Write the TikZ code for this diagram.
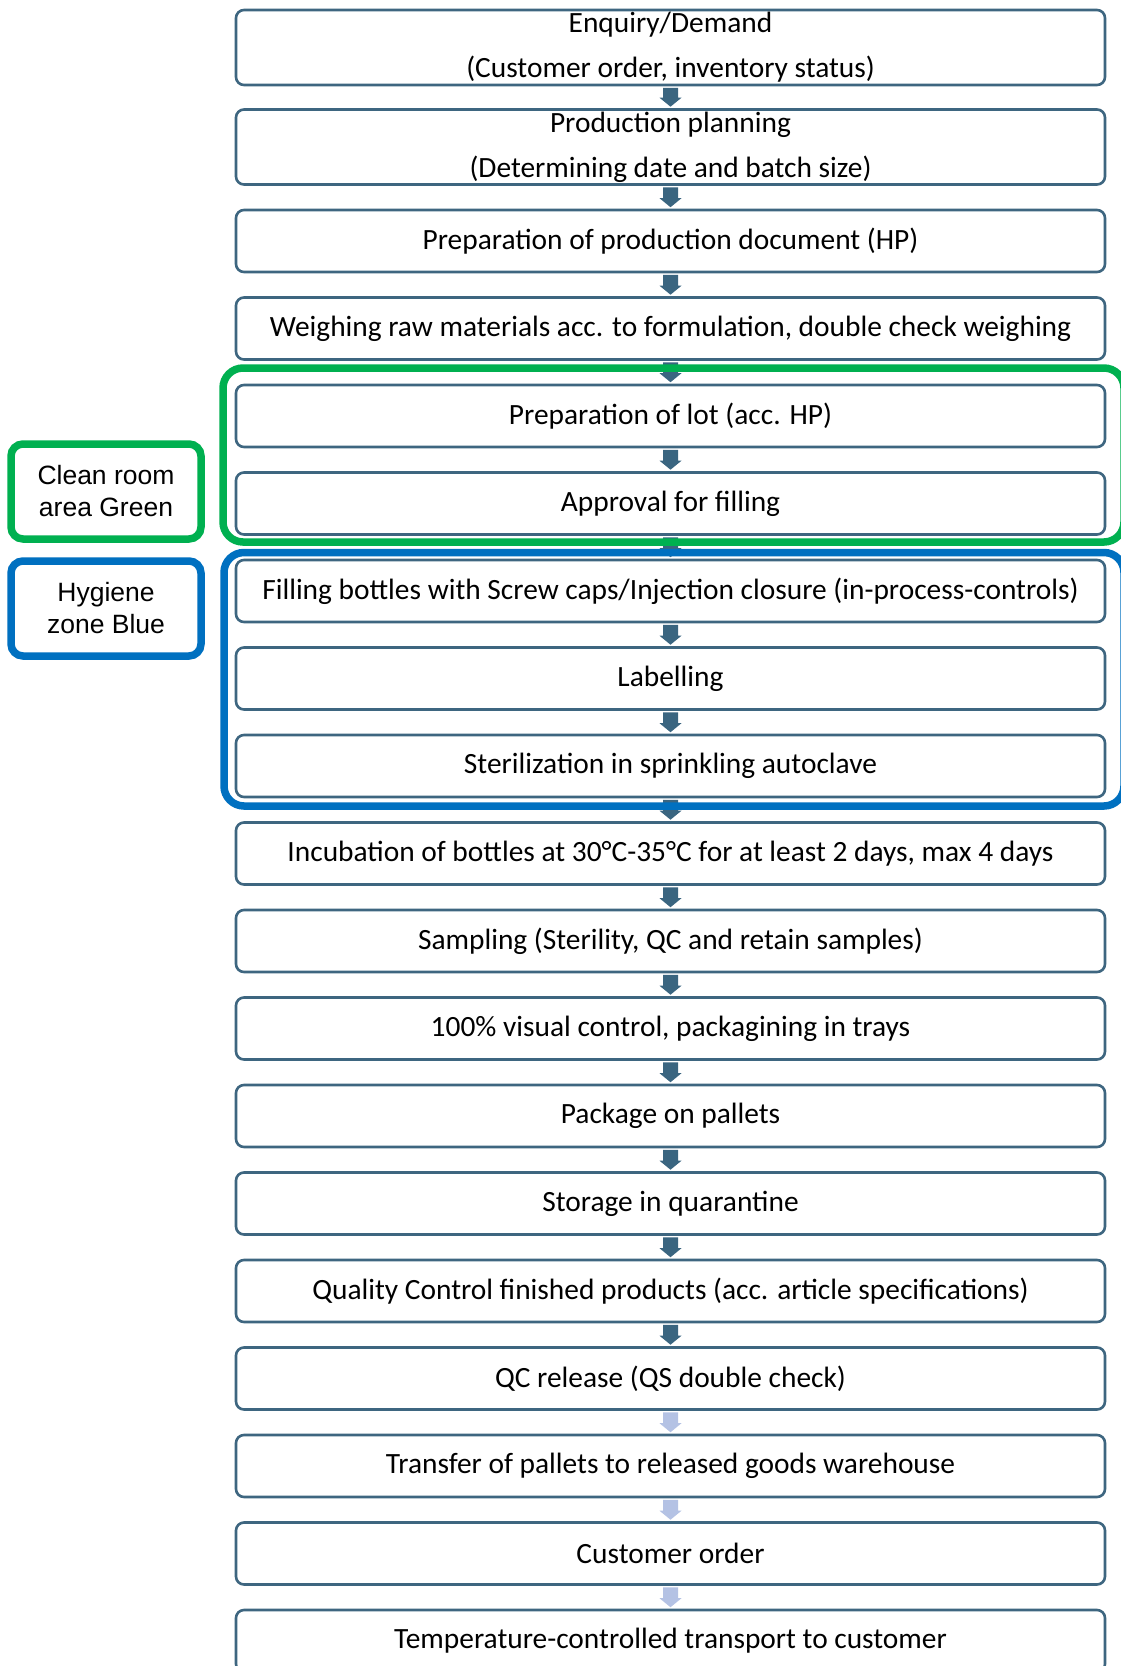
\documentclass[tikz,border=0pt]{standalone}
\usepackage{fontspec}
\setmainfont{Carlito}
\newfontfamily\arialf{Liberation Sans}
\usetikzlibrary{calc}
\definecolor{boxc}{HTML}{3E6680}
\definecolor{arrc}{HTML}{3A6580}
\definecolor{lightarr}{HTML}{B4C2E4}
\definecolor{greenc}{HTML}{00B050}
\definecolor{bluec}{HTML}{0070C0}
\tikzset{
  stepbox/.style={draw=boxc, line width=2.6pt, rounded corners=8pt, minimum width=869pt,
    minimum height=62pt, inner sep=0pt, align=center, font=\fontsize{29.4pt}{35pt}\selectfont},
  tallbox/.style={stepbox, minimum height=75pt, font=\fontsize{29.4pt}{45pt}\selectfont},
  zonelabel/.style={line width=7.5pt, rounded corners=12pt, minimum width=190pt,
    minimum height=95pt, inner sep=0pt, align=center, font=\arialf\fontsize{26.5pt}{32pt}\selectfont},
  zoneframe/.style={line width=7.5pt, rounded corners=20pt}
}
\newcommand\flowarrow[3]{\fill[#3] let \p1=(#1.south), \p2=(#2.north) in
  (\x1-7.5pt,\y1-1.5pt) -- (\x1+7.5pt,\y1-1.5pt) -- (\x1+7.5pt,\y2+10.5pt) --
  (\x1+11pt,\y2+10.5pt) -- (\x1,\y2+1.5pt) -- (\x1-11pt,\y2+10.5pt) --
  (\x1-7.5pt,\y2+10.5pt) -- cycle;}
\begin{document}
\begin{tikzpicture}[x=1pt,y=-1pt]
\useasboundingbox[fill=white] (0,0) rectangle (1120,1666);
\node[tallbox] (b1) at (670.5,47.5) {Enquiry/Demand\\(Customer order, inventory status)};
\node[tallbox] (b2) at (670.5,147) {Production planning\\(Determining date and batch size)};
\node[stepbox] (b3) at (670.5,241) {Preparation of production document (HP)};
\node[stepbox] (b4) at (670.5,328.5) {Weighing raw materials acc. to formulation, double check weighing};
\node[stepbox] (b5) at (670.5,416) {Preparation of lot (acc. HP)};
\node[stepbox] (b6) at (670.5,503.5) {Approval for filling};
\node[stepbox] (b7) at (670.5,591) {Filling bottles with Screw caps/Injection closure (in-process-controls)};
\node[stepbox] (b8) at (670.5,678.5) {Labelling};
\node[stepbox] (b9) at (670.5,766) {Sterilization in sprinkling autoclave};
\node[stepbox] (b10) at (670.5,853.5) {Incubation of bottles at 30°C-35°C for at least 2 days, max 4 days};
\node[stepbox] (b11) at (670.5,941) {Sampling (Sterility, QC and retain samples)};
\node[stepbox] (b12) at (670.5,1028.5) {100\% visual control, packagining in trays};
\node[stepbox] (b13) at (670.5,1116) {Package on pallets};
\node[stepbox] (b14) at (670.5,1203.5) {Storage in quarantine};
\node[stepbox] (b15) at (670.5,1291) {Quality Control finished products (acc. article specifications)};
\node[stepbox] (b16) at (670.5,1378.5) {QC release (QS double check)};
\node[stepbox] (b17) at (670.5,1466) {Transfer of pallets to released goods warehouse};
\node[stepbox] (b18) at (670.5,1553.5) {Customer order};
\node[stepbox] (b19) at (670.5,1641) {Temperature-controlled transport to customer};
\foreach \a/\b in {1/2,2/3,3/4,4/5,5/6,6/7,7/8,8/9,9/10,10/11,11/12,12/13,13/14,14/15,15/16}
  {\flowarrow{b\a}{b\b}{arrc}}
\foreach \a/\b in {16/17,17/18,18/19}
  {\flowarrow{b\a}{b\b}{lightarr}}
\draw[zoneframe, greenc] (223,368) rectangle (1124,542);
\draw[zoneframe, bluec] (224,552.5) rectangle (1124,806);
\node[zonelabel, draw=greenc] (lg) at (106,491.5) {Clean room\\area Green};
\node[zonelabel, draw=bluec] (lb) at (106,608.5) {Hygiene\\zone Blue};
\end{tikzpicture}
\end{document}
